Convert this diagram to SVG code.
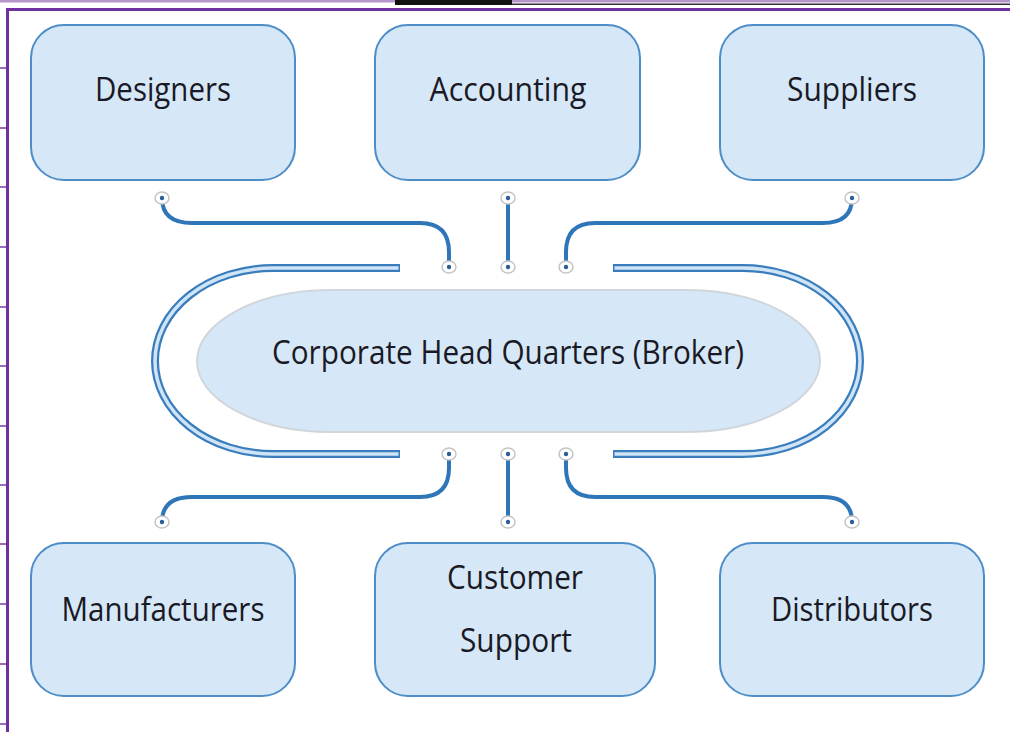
<svg xmlns="http://www.w3.org/2000/svg" width="1010" height="732" viewBox="0 0 1010 732">
<style>
.box{fill:#d6e8f7;stroke:#4d8dc8;stroke-width:2}
.lbl{font-family:"Open Sans","Liberation Sans",sans-serif;font-size:32px;fill:#1a1a26;text-anchor:middle}
.conn{fill:none;stroke:#2f76b8;stroke-width:4;stroke-linecap:round}
.ringO{fill:none;stroke:#3a7dbd;stroke-width:8}
.ringI{fill:none;stroke:#cfe4f6;stroke-width:3.5}
.tick{stroke:#7a3aa8;stroke-width:1.5}
.end{fill:#fff;stroke:#c4c4c4;stroke-width:1.5}
.dot{fill:#2a5f96}
</style>
<defs>
<g id="ep"><ellipse class="end" cx="0" cy="0" rx="7" ry="6"/><circle class="dot" cx="0" cy="0" r="2.2"/></g>
</defs>
<rect width="1010" height="732" fill="#ffffff"/>
<!-- page chrome -->
<rect x="0" y="0" width="1010" height="2.5" fill="#b596cc"/>
<rect x="395" y="0" width="117" height="5" fill="#111"/>
<rect x="512" y="3.5" width="498" height="1.5" fill="#333"/>
<rect x="6" y="8" width="1004" height="3" fill="#7030a0"/>
<rect x="6" y="8" width="3" height="724" fill="#7030a0"/>
<g>
<line class="tick" x1="0" y1="68" x2="6" y2="68"/>
<line class="tick" x1="0" y1="128" x2="6" y2="128"/>
<line class="tick" x1="0" y1="187" x2="6" y2="187"/>
<line class="tick" x1="0" y1="247" x2="6" y2="247"/>
<line class="tick" x1="0" y1="307" x2="6" y2="307"/>
<line class="tick" x1="0" y1="366" x2="6" y2="366"/>
<line class="tick" x1="0" y1="426" x2="6" y2="426"/>
<line class="tick" x1="0" y1="485" x2="6" y2="485"/>
<line class="tick" x1="0" y1="544" x2="6" y2="544"/>
<line class="tick" x1="0" y1="604" x2="6" y2="604"/>
<line class="tick" x1="0" y1="664" x2="6" y2="664"/>
<line class="tick" x1="0" y1="724" x2="6" y2="724"/>
</g>
<!-- ring -->
<g id="ring">
<path class="ringO" d="M400,268 L273,268 A118,93 0 0 0 273,454 L400,454"/>
<path class="ringI" d="M398.5,268 L273,268 A118,93 0 0 0 273,454 L398.5,454"/>
<path class="ringO" d="M613,268 L743,268 A117,93 0 0 1 743,454 L613,454"/>
<path class="ringI" d="M614.5,268 L743,268 A117,93 0 0 1 743,454 L614.5,454"/>
</g>
<!-- center -->
<g id="hq">
<rect x="197" y="290" width="623" height="142" rx="135" ry="71" fill="#d6e8f7" stroke="#d0d6dc" stroke-width="2"/>
<text class="lbl" x="508" y="364" textLength="472" lengthAdjust="spacingAndGlyphs">Corporate Head Quarters (Broker)</text>
</g>
<!-- connectors -->
<g id="connectors">
<path class="conn" d="M162,198 Q162,223 192,223 L420,223 Q449,223 449,252 L449,267"/>
<path class="conn" d="M508,198 L508,267"/>
<path class="conn" d="M566,267 L566,252 Q566,223 595,223 L823,223 Q852,223 852,198"/>
<path class="conn" d="M449,454 L449,468 Q449,497 420,497 L192,497 Q162,497 162,522"/>
<path class="conn" d="M508,454 L508,522"/>
<path class="conn" d="M566,454 L566,468 Q566,497 595,497 L823,497 Q852,497 852,522"/>
<use href="#ep" x="162" y="198"/><use href="#ep" x="449" y="267"/>
<use href="#ep" x="508" y="198"/><use href="#ep" x="508" y="267"/>
<use href="#ep" x="566" y="267"/><use href="#ep" x="852" y="198"/>
<use href="#ep" x="449" y="454"/><use href="#ep" x="162" y="522"/>
<use href="#ep" x="508" y="454"/><use href="#ep" x="508" y="522"/>
<use href="#ep" x="566" y="454"/><use href="#ep" x="852" y="522"/>
</g>
<!-- nodes -->
<g id="designers"><rect class="box" x="31" y="25" width="264" height="155" rx="33"/><text class="lbl" x="163" y="101" textLength="136" lengthAdjust="spacingAndGlyphs">Designers</text></g>
<g id="accounting"><rect class="box" x="375" y="25" width="265" height="155" rx="33"/><text class="lbl" x="508" y="101" textLength="157" lengthAdjust="spacingAndGlyphs">Accounting</text></g>
<g id="suppliers"><rect class="box" x="720" y="25" width="264" height="155" rx="33"/><text class="lbl" x="852" y="101" textLength="130" lengthAdjust="spacingAndGlyphs">Suppliers</text></g>
<g id="manufacturers"><rect class="box" x="31" y="543" width="264" height="153" rx="33"/><text class="lbl" x="163" y="621" textLength="203" lengthAdjust="spacingAndGlyphs">Manufacturers</text></g>
<g id="customer-support"><rect class="box" x="375" y="543" width="280" height="153" rx="33"/><text class="lbl" x="515" y="589" textLength="136" lengthAdjust="spacingAndGlyphs">Customer</text><text class="lbl" x="516" y="652" textLength="112" lengthAdjust="spacingAndGlyphs">Support</text></g>
<g id="distributors"><rect class="box" x="720" y="543" width="264" height="153" rx="33"/><text class="lbl" x="852" y="621" textLength="162" lengthAdjust="spacingAndGlyphs">Distributors</text></g>
</svg>
